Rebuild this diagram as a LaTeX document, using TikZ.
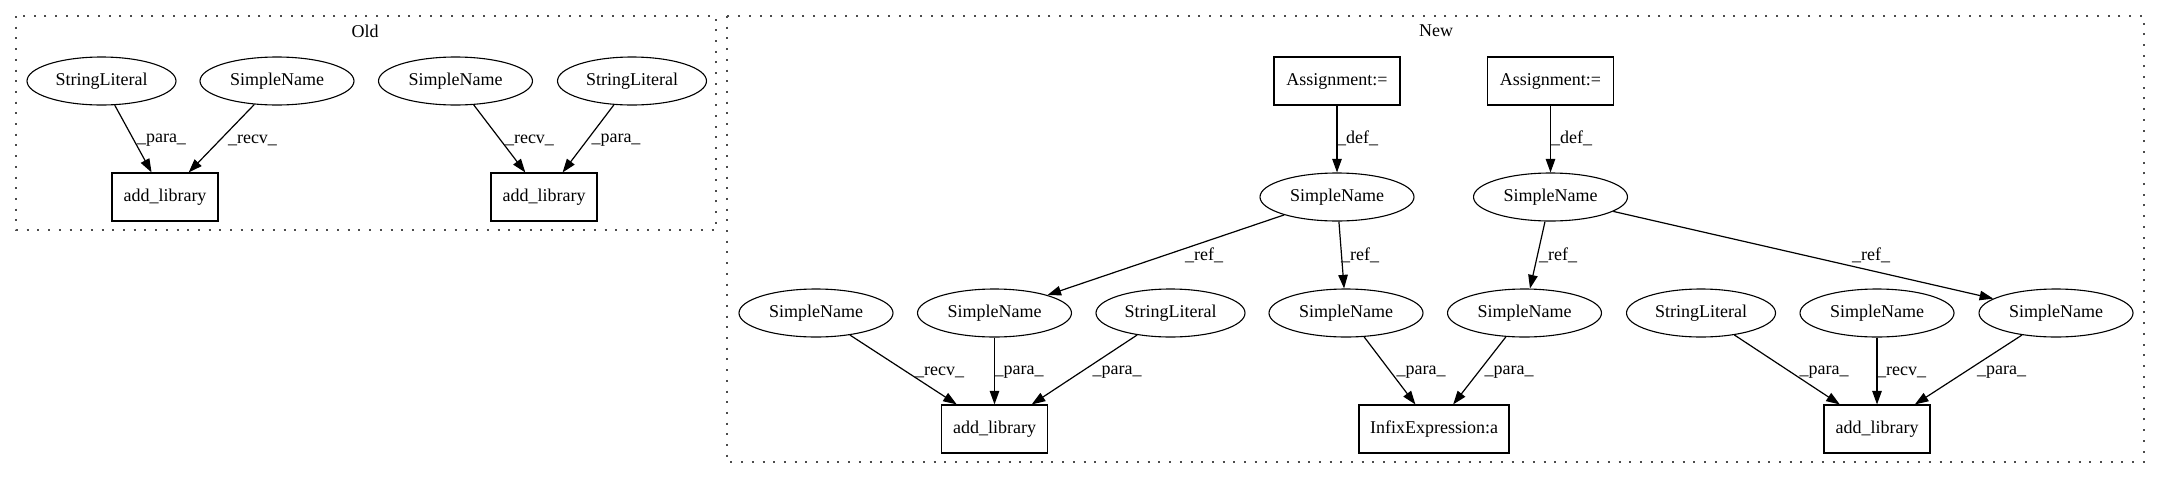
\documentclass[tikz,border=0pt]{standalone}
\usepackage{fontspec}
\setmainfont{Liberation Serif}
\usetikzlibrary{shapes.geometric,arrows.meta}
\begin{document}
\begin{tikzpicture}[x=1pt,y=-1pt,
  every node/.style={font=\fontsize{18}{22}\selectfont, inner sep=0pt},
  ell/.style={draw, line width=1.1pt, ellipse, minimum width=154pt, minimum height=48pt},
  lit/.style={ell, minimum width=149pt},
  bx/.style={draw, line width=1.1pt, rectangle, minimum width=106pt, minimum height=48pt},
  edge/.style={draw, line width=1.2pt, -{Triangle[length=13.6pt,width=9.5pt]}},
  lbl/.style={anchor=center},
  clus/.style={draw=black!70, line width=1.4pt, dash pattern=on 2pt off 8.7pt}
]
\useasboundingbox (0,0) rectangle (2160,480);
% clusters
\draw[clus] (16,16) rectangle (716,230);
\draw[clus] (727,16) rectangle (2144,462);
\node (oldlbl) at (365,31) {Old};
\node (newlbl) at (1436,31) {New};
% Old nodes
\node[lit] (oS1) at (101.5,81) {StringLiteral};
\node[ell] (oN1) at (277,81) {SimpleName};
\node[ell] (oN2) at (455.5,81) {SimpleName};
\node[lit] (oS2) at (632,81) {StringLiteral};
\node[bx] (oA1) at (165,197) {add\_library};
\node[bx] (oA2) at (544,197) {add\_library};
% New nodes
\node[bx, minimum width=126pt] (asg1) at (1337,81) {Assignment:=};
\node[bx, minimum width=126pt] (asg2) at (1550.5,81) {Assignment:=};
\node[ell] (sn1) at (1337,197) {SimpleName};
\node[ell] (sn2) at (1550.5,197) {SimpleName};
\node[ell] (L1) at (816,313) {SimpleName};
\node[ell] (L2) at (994.5,313) {SimpleName};
\node[lit] (L3) at (1170.5,313) {StringLiteral};
\node[ell] (M1) at (1346,313) {SimpleName};
\node[ell] (M2) at (1524.5,313) {SimpleName};
\node[lit] (R1) at (1701,313) {StringLiteral};
\node[ell] (R2) at (1877,313) {SimpleName};
\node[ell] (R3) at (2056,313) {SimpleName};
\node[bx] (addL) at (994.5,429) {add\_library};
\node[bx, minimum width=150pt] (infix) at (1434,429) {InfixExpression:a};
\node[bx] (addR) at (1877,429) {add\_library};
% Old edges
\draw[edge] (oS1) -- (oA1);
\draw[edge] (oN1) -- (oA1);
\draw[edge] (oN2) -- (oA2);
\draw[edge] (oS2) -- (oA2);
\node[lbl] (e1) at (161.5,140) {\_para\_};
\node[lbl] (e2) at (252.5,140) {\_recv\_};
\node[lbl] (e3) at (529.5,140) {\_recv\_};
\node[lbl] (e4) at (616,140) {\_para\_};
% New edges
\draw[edge] (asg1) -- (sn1);
\draw[edge] (asg2) -- (sn2);
\draw[edge] (sn1) -- (L2);
\draw[edge] (sn1) -- (M1);
\draw[edge] (sn2) -- (M2);
\draw[edge] (sn2) -- (R3);
\draw[edge] (L1) -- (addL);
\draw[edge] (L2) -- (addL);
\draw[edge] (L3) -- (addL);
\draw[edge] (M1) -- (infix);
\draw[edge] (M2) -- (infix);
\draw[edge] (R1) -- (addR);
\draw[edge] (R2) -- (addR);
\draw[edge] (R3) -- (addR);
\node[lbl] (f1) at (1357.5,138) {\_def\_};
\node[lbl] (f2) at (1571.5,138) {\_def\_};
\node[lbl] (f3) at (1204,255) {\_ref\_};
\node[lbl] (f4) at (1360,255) {\_ref\_};
\node[lbl] (f5) at (1558,255) {\_ref\_};
\node[lbl] (f6) at (1871,255) {\_ref\_};
\node[lbl] (f7) at (939.5,372) {\_recv\_};
\node[lbl] (f8) at (1019,372) {\_para\_};
\node[lbl] (f9) at (1117,372) {\_para\_};
\node[lbl] (f10) at (1421,372) {\_para\_};
\node[lbl] (f11) at (1509,372) {\_para\_};
\node[lbl] (f12) at (1824,372) {\_para\_};
\node[lbl] (f13) at (1901.5,372) {\_recv\_};
\node[lbl] (f14) at (2001.5,372) {\_para\_};
\end{tikzpicture}
\end{document}
